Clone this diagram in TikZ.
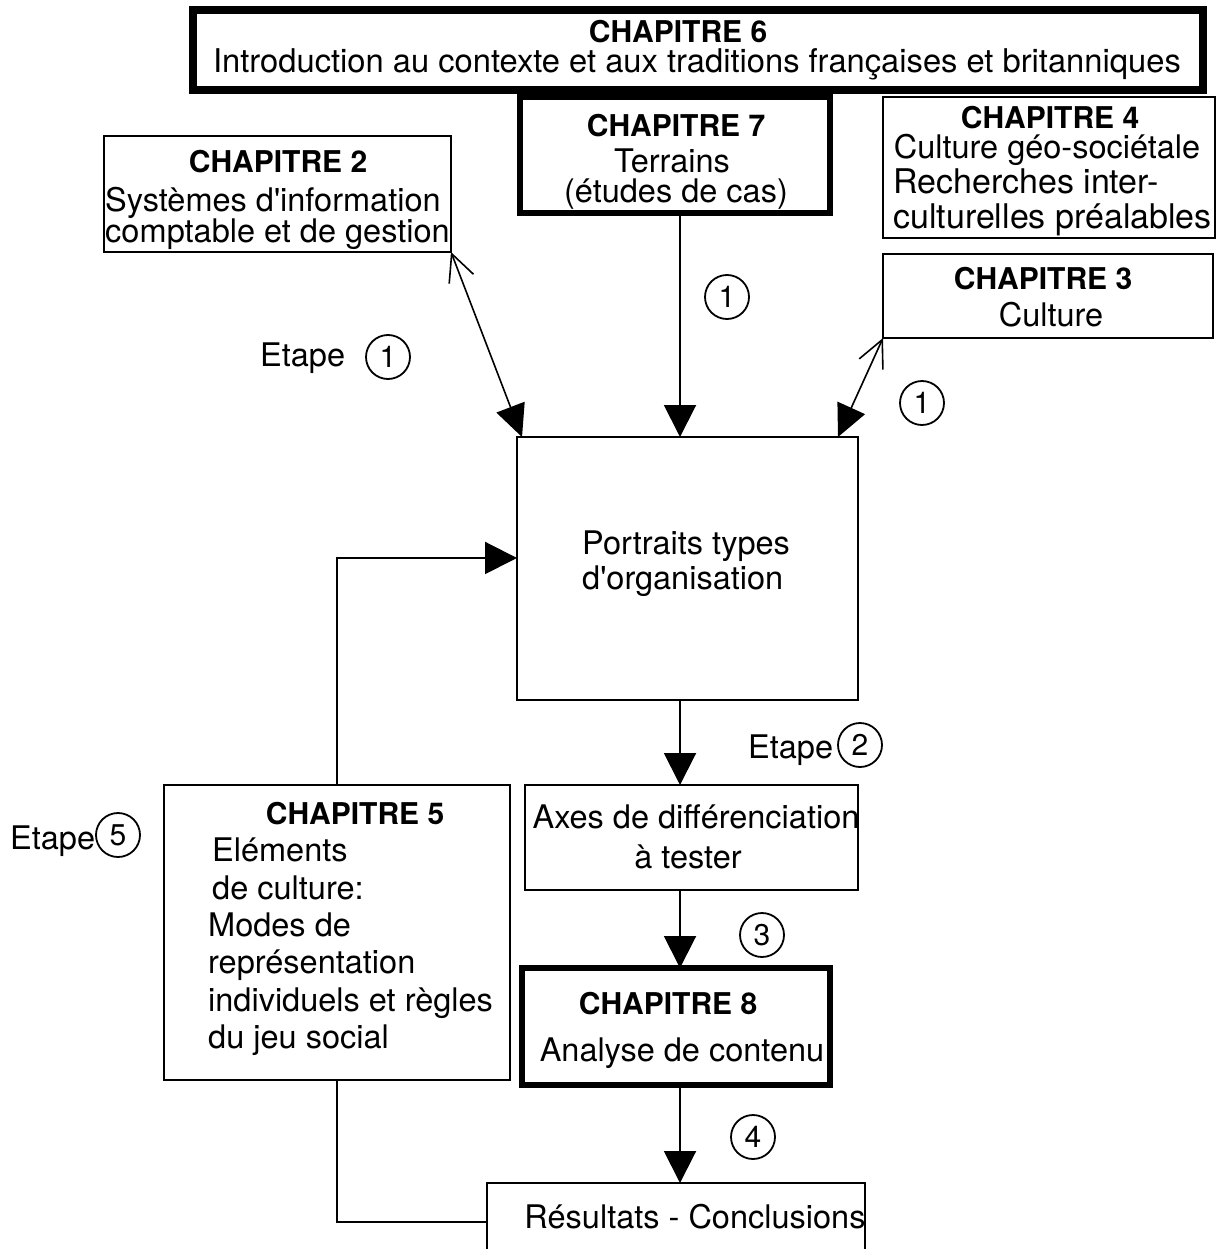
\documentclass[tikz,border=0pt]{standalone}
\usepackage{fontspec}
\setmainfont{TeX Gyre Heros}
\usetikzlibrary{arrows.meta,calc}

\newcommand{\apos}{\textquotesingle}

\begin{document}
\begin{tikzpicture}[x=1pt,y=-1pt,
  box/.style={draw, line width=2pt, inner sep=0pt, outer sep=0pt},
  heavy/.style={box, line width=6.5pt},
  txt/.style={inner sep=0pt, font=\fontsize{32.5}{37}\selectfont},
  head/.style={inner sep=0pt, font=\fontsize{30}{36}\selectfont\bfseries},
  num/.style={circle, draw, line width=1.8pt, minimum size=44pt, inner sep=0pt,
              font=\fontsize{30}{30}\selectfont},
  arr/.style={line width=2pt, -{Triangle[length=32pt,width=32pt]}},
  dbl/.style={line width=1.6pt,
              {Straight Barb[length=27pt,width=26pt]}-{Triangle[length=32pt,width=30pt]}},
  link/.style={line width=2pt}
]
\useasboundingbox (0,0) rectangle (1227,1249);
\fill[white] (0,0) rectangle (1227,1249);

% ---- boxes ----
\node[heavy, line width=7.5pt, minimum width=1010pt, minimum height=80pt] (ch6) at (698,50) {};
\node[heavy, minimum width=310pt, minimum height=116pt] (ch7) at (675,155) {};
\node[box, minimum width=332pt, minimum height=141pt] (ch4) at (1049,167.5) {};
\node[box, minimum width=347pt, minimum height=116pt] (ch2) at (277.5,194) {};
\node[box, minimum width=330pt, minimum height=84pt] (ch3) at (1048,296) {};
\node[box, minimum width=341pt, minimum height=263pt] (portrait) at (687.5,568.5) {};
\node[box, minimum width=333pt, minimum height=105pt] (axes) at (691.5,837.5) {};
\node[box, minimum width=346pt, minimum height=295pt] (ch5) at (337,932.5) {};
\node[heavy, minimum width=308pt, minimum height=117pt] (ch8) at (676,1026.5) {};
\node[box, minimum width=378pt, minimum height=77pt] (res) at (676,1221.5) {};

% ---- texts ----
\node[head, anchor=base] at (678,43) {CHAPITRE 6};
\node[txt, anchor=base, font=\fontsize{32.7}{37}\selectfont] at (697,73) {Introduction au contexte et aux traditions françaises et britanniques};

\node[head, anchor=base] at (676,137) {CHAPITRE 7};
\node[txt, anchor=base] at (672,173) {Terrains};
\node[txt, anchor=base] at (676,203) {(études de cas)};

\node[head, anchor=base] at (1050,129) {CHAPITRE 4};
\node[txt, anchor=base] at (1047,159) {Culture géo-sociétale};
\node[txt, anchor=base west, font=\fontsize{34}{37}\selectfont] at (893,194) {Recherches inter-};
\node[txt, anchor=base west, font=\fontsize{34}{37}\selectfont] at (893,229) {culturelles préalables};

\node[head, anchor=base] at (278,173) {CHAPITRE 2};
\node[txt, anchor=base west] at (105,212) {Systèmes d\apos information};
\node[txt, anchor=base west] at (105,243) {comptable et de gestion};

\node[head, anchor=base] at (1043,289) {CHAPITRE 3};
\node[txt, anchor=base] at (1051,326) {Culture};

\node[txt, anchor=base west] at (582,554) {Portraits types};
\node[txt, anchor=base west] at (582,589) {d\apos organisation};

\node[txt, anchor=base] at (696,828) {Axes de différenciation};
\node[txt, anchor=base] at (688,868) {à tester};

\node[head, anchor=base] at (668,1014) {CHAPITRE 8};
\node[txt, anchor=base] at (682,1061) {Analyse de contenu};

\node[head, anchor=base] at (355,824) {CHAPITRE 5};
\node[txt, anchor=base west] at (212,861) {Eléments};
\node[txt, anchor=base west] at (212,899) {de culture:};
\node[txt, anchor=base west] at (208,936) {Modes de};
\node[txt, anchor=base west] at (208,973) {représentation};
\node[txt, anchor=base west] at (208,1011) {individuels et règles};
\node[txt, anchor=base west] at (208,1048) {du jeu social};

\node[txt, anchor=base] at (695,1228) {Résultats - Conclusions};

% ---- step labels ----
\node[txt, anchor=base west] (e1) at (260,366) {Etape};
\node[num] (n1a) at (388,357) {1};
\node[num] (n1b) at (727,297) {1};
\node[num] (n1c) at (922,403) {1};
\node[txt, anchor=base west] (e2) at (748,758) {Etape};
\node[num] (n2) at (860,745) {2};
\node[num] (n3) at (762,935) {3};
\node[num] (n4) at (753,1137) {4};
\node[txt, anchor=base west] (e5) at (10,849) {Etape};
\node[num] (n5) at (118,835) {5};

% ---- connectors ----
\coordinate (spine) at (680,0);
\draw[arr] (ch7.south -| spine) -- (portrait.north -| spine);
\draw[arr] (portrait.south -| spine) -- (axes.north -| spine);
\draw[arr] (axes.south -| spine) -- (ch8.north -| spine);
\draw[arr] (ch8.south -| spine) -- (res.north -| spine);

\draw[dbl] (ch2.south east) -- ([xshift=5pt]portrait.north west);
\draw[dbl] (ch3.south west) -- ([xshift=-20pt]portrait.north east);

\draw[arr] (ch5.north) |- ($(portrait.north west)!0.46!(portrait.south west)$);
\draw[link] (ch5.south) |- (res.west);
\end{tikzpicture}
\end{document}
